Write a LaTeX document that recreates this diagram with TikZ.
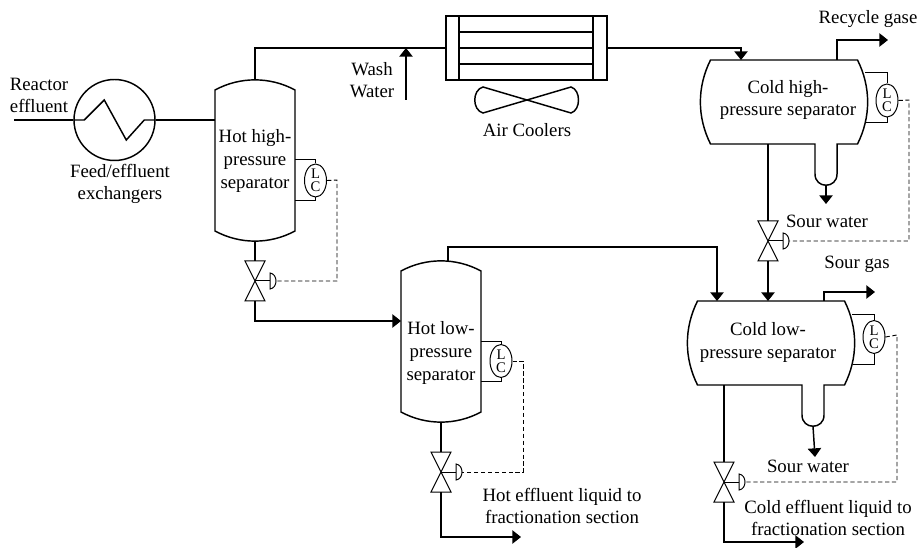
\documentclass[tikz,border=0pt]{standalone}
\usepackage{fontspec}
\setmainfont{Liberation Serif}
\usetikzlibrary{arrows.meta,shapes.geometric}
\tikzset{
  pipe/.style={line width=1.1pt},
  flow/.style={pipe,-{Triangle[length=6.5pt,width=10pt]}},
  inst/.style={line width=.75pt},
  signal/.style={line width=.7pt,dash pattern=on 3.2pt off 2pt},
  tag/.style={align=center,font=\fontsize{14.1}{17}\selectfont,inner sep=0pt},
  lc/.style={draw,inst,fill=white,ellipse,inner sep=0pt,minimum width=16.5pt,minimum height=24.75pt,
    align=center,font=\fontsize{11}{10}\selectfont},
  pics/tallsep/.style={code={
    \draw[pipe] (-40,-70.5) .. controls (-15,-84) and (15,-84) .. (40,-70.5)
      -- (40,70.5) .. controls (15,84) and (-15,84) .. (-40,70.5) -- cycle;
    \coordinate (-top) at (0,-80.5);
    \coordinate (-bot) at (0,80.5);
    \coordinate (-west) at (-40,0);
  }},
  pics/widesep/.style={code={
    \draw[pipe] (-73.5,-42) -- (73.5,-42) .. controls (87,-15) and (87,15) .. (73.5,42)
      -- (53,42) -- (53,72) .. controls (53,87) and (31,87) .. (31,72) -- (31,42)
      -- (-73.5,42) .. controls (-87,15) and (-87,-15) .. (-73.5,-42) -- cycle;
    \coordinate (-top) at (0,-42);
    \coordinate (-bot) at (0,42);
    \coordinate (-boot) at (42,83.5);
  }},
  pics/valve/.style={code={
    \draw[inst] (-10,-20) -- (10,-20) -- (-10,20) -- (10,20) -- cycle;
    \draw[inst] (0,0) -- (15,0);
    \draw[inst] (15,-8) .. controls (23,-7) and (23,7) .. (15,8) -- cycle;
    \coordinate (-top) at (0,-20);
    \coordinate (-bot) at (0,20);
    \coordinate (-act) at (21,0);
  }}
}
\begin{document}
\begin{tikzpicture}[x=.75pt,y=-.75pt]
  \useasboundingbox (0,0) rectangle (919,548);
  % ------ Exchanger ------------------------------
  \node[draw,pipe,circle,inner sep=0pt,minimum size=60.75pt] (hx) at (114.5,120) {};
  \coordinate (feed) at (14,120);
  \draw[pipe] (feed) -- (hx.west);
  \draw[pipe] (hx.west) -- +(11,0) -- +(31,-20) -- +(53,20) -- +(71,0) -- (hx.east);
  \node[tag] (feedtag) at (39,95.5) {Reactor\\effluent};
  \node[tag] (hxtag) at (120,184) {Feed/effluent\\exchangers};
  % ------ Hot separators --------------------------
  \pic (hhps) at (255,160.5) {tallsep};
  \pic (hlps) at (441,341.5) {tallsep};
  \node[tag] (hhpstag) at (255,161) {Hot high-\\pressure\\separator};
  \node[tag] (hlpstag) at (441,353) {Hot low-\\pressure\\separator};
  \pic (hhpv) at (255,281) {valve};
  \pic (hlpv) at (441,472) {valve};
  \node[lc] (hhlc) at (315.5,180.5) {L\\C};
  \node[lc] (hllc) at (501,361) {L\\C};
  % ------ Cold separators -------------------------
  \pic (chps) at (784,102) {widesep};
  \pic (clps) at (771,343) {widesep};
  \node[tag] (chpstag) at (788,100) {Cold high-\\pressure separator};
  \node[tag] (clpstag) at (768,342.5) {Cold low-\\pressure separator};
  \pic (chpv) at (768,241) {valve};
  \pic (clpv) at (724,482) {valve};
  \node[lc] (chlc) at (887,100.5) {L\\C};
  \node[lc] (cllc) at (874,337) {L\\C};
  % ------ Air coolers -----------------------------
  \node[draw,pipe,minimum width=120.75pt,minimum height=48pt,inner sep=0pt] (cooler) at (526.5,48) {};
  \foreach \ypos in {32,48,64}
    \draw[pipe] (459,\ypos) -- (593,\ypos);
  \draw[pipe] (459,16) -- (459,80);
  \draw[pipe] (593,16) -- (593,80);
  \draw[pipe] (527,100) -- (483,87) .. controls (472,90) and (472,110) .. (483,113)
    -- (571,87) .. controls (581,90) and (581,110) .. (571,113) -- cycle;
  \node[tag] (coolertag) at (527,130) {Air Coolers};
  \node[tag] (washtag) at (372,80) {Wash\\Water};
  \coordinate (washin) at (406,100);
  \coordinate (washout) at (406,48);
  \draw[flow] (washin) -- (washout);
  % ------ Process lines ---------------------------
  \coordinate (hhpsin) at (215,120);
  \coordinate (chpsin) at (741,60);
  \coordinate (hlpsout) at (448,261);
  \coordinate (clpsin) at (717,301);
  \coordinate (clpsmid) at (767,301);
  \coordinate (rgstart) at (837,60);
  \coordinate (rgend) at (888,40);
  \coordinate (sgstart) at (824,301);
  \coordinate (sgend) at (875,292);
  \coordinate (swa) at (826,204);
  \coordinate (swb) at (815,457);
  \coordinate (hlend) at (521,537);
  \coordinate (clend) at (804,542);
  \draw[pipe] (hx.east) -- (hhpsin);
  \draw[pipe] (hhps-top) |- (cooler.west);
  \draw[flow] (cooler.east) -| (chpsin);
  \draw[flow] (rgstart) |- (rgend);
  \draw[pipe] (chps-bot -| chpv-top) -- (chpv-top);
  \draw[flow] (chpv-bot) -- (chpv-bot |- clpsmid);
  \draw[flow] (chps-boot) -- (swa);
  \draw[pipe] (hhps-bot) -- (hhpv-top);
  \draw[flow] (hhpv-bot) |- (hlps-west |- 0,321);
  \draw[flow] (hlpsout) |- (clpsin |- 0,247) -- (clpsin);
  \draw[pipe] (hlps-bot) -- (hlpv-top);
  \draw[flow] (hlpv-bot) |- (hlend);
  \draw[flow] (sgstart) |- (sgend);
  \draw[pipe] (clps-bot -| clpv-top) -- (clpv-top);
  \draw[flow] (clpv-bot) |- (clend);
  \draw[flow] (clps-boot) -- (swb);
  % ------ Level control ---------------------------
  \coordinate (hhlca) at (295,160);
  \coordinate (hhlcb) at (295,201);
  \coordinate (hllca) at (481,341);
  \coordinate (hllcb) at (481,381);
  \coordinate (chlca) at (865,73);
  \coordinate (chlcb) at (866,123);
  \coordinate (cllca) at (852,315);
  \coordinate (cllcb) at (853,364);
  \draw[inst] (hhlca) -| (hhlc.north);
  \draw[inst] (hhlcb) -| (hhlc.south);
  \draw[inst] (hllca) -| (hllc.north);
  \draw[inst] (hllcb) -| (hllc.south);
  \draw[inst] (chlca) -| (chlc.north);
  \draw[inst] (chlcb) -| (chlc.south);
  \draw[inst] (cllca) -| (cllc.north);
  \draw[inst] (cllcb) -| (cllc.south);
  \coordinate (hhsig) at (337,180);
  \coordinate (hlsig) at (523,361);
  \coordinate (chsig) at (909,100);
  \coordinate (clsig) at (897,335);
  \draw[signal] (hhlc.east) -- (hhsig) |- (hhpv-act);
  \draw[signal] (hllc.east) -- (hlsig) |- (hlpv-act);
  \draw[signal] (chlc.east) -- (chsig) |- (chpv-act);
  \draw[signal] (cllc.east) -- (clsig) |- (clpv-act);
  % ------ Stream labels ---------------------------
  \node[tag] (rgtag) at (868,19) {Recycle gase};
  \node[tag] (sw1tag) at (827,221) {Sour water};
  \node[tag] (sgtag) at (857,264) {Sour gas};
  \node[tag] (sw2tag) at (808,466) {Sour water};
  \node[tag] (hltag) at (562,506) {Hot effluent liquid to\\fractionation section};
  \node[tag] (cltag) at (828,518) {Cold effluent liquid to\\fractionation section};
\end{tikzpicture}
\end{document}
